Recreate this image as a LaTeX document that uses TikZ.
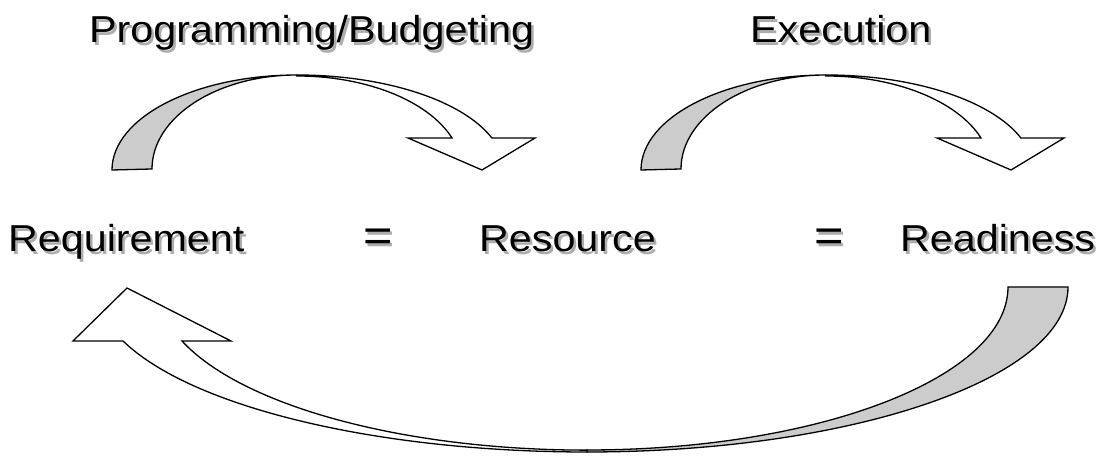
\documentclass[tikz,border=0pt]{standalone}
\usepackage{fontspec}
\newfontfamily\lblfont[FakeStretch=1.1]{Liberation Sans}
\usepackage{tikz}

\definecolor{ribbongray}{gray}{0.8}
\definecolor{shadowgray}{gray}{0.68}

\tikzset{
	lbl/.style={inner sep=0pt, font=\lblfont\fontsize{37.5}{40}\selectfont},
	eqsign/.style={font=\lblfont\fontsize{46}{48}\selectfont},
	back/.style={draw=black, fill=ribbongray, line width=1.3pt},
	front/.style={draw=black, fill=white, line width=1.3pt},
}

% text with a grey drop shadow: name, options, position, text
\newcommand{\shadowlabel}[4]{%
	\node[lbl, #2, text=shadowgray, xshift=2.5pt, yshift=-2.5pt] at (#3) {#4};
	\node[lbl, #2] (#1) at (#3) {#4};
}

\begin{document}
\begin{tikzpicture}[x=1pt, y=1pt]
			\useasboundingbox (0,0) rectangle (1104,457);

			% the two upper arrows
			\foreach \dx in {0,529}
			{
				\begin{scope}[xshift=\dx pt]
					\draw[back] (112,287) arc[start angle=180, end angle=90, x radius=185, y radius=95]
						arc[start angle=90, end angle=180, x radius=145, y radius=94] -- cycle;
					\draw[front] (297,382) arc[start angle=90, end angle=19.7, x radius=207, y radius=95]
						-- (535,319) -- (482,287) -- (408,319) -- (452,319)
						arc[start angle=19.9, end angle=90, x radius=165, y radius=94] -- cycle;
				\end{scope}
			}

			% the lower arrow
			\begin{scope}
				\draw[back] (1068,170) arc[start angle=0, end angle=-90, x radius=481, y radius=165]
					-- (587,7) arc[start angle=-90, end angle=0, x radius=421, y radius=163] -- cycle;
				\draw[front] (587,5) arc[start angle=-90, end angle=-160.9, x radius=491, y radius=165]
					-- (73,116) -- (127,169) -- (231,116) -- (182,116)
					arc[start angle=-160.7, end angle=-90, x radius=429, y radius=163] -- cycle;
			\end{scope}

			% labels
			\shadowlabel{prog}{anchor=base west}{89,414}{Programming/Budgeting}
			\shadowlabel{exec}{anchor=base west}{750,414}{Execution}
			\shadowlabel{req}{anchor=base west}{8,205}{Requirement}
			\shadowlabel{eqa}{anchor=base, eqsign}{378,205}{=}
			\shadowlabel{res}{anchor=base west}{479,205}{Resource}
			\shadowlabel{eqb}{anchor=base, eqsign}{829,205}{=}
			\shadowlabel{rdy}{anchor=base west}{900,205}{Readiness}
		\end{tikzpicture}
\end{document}
